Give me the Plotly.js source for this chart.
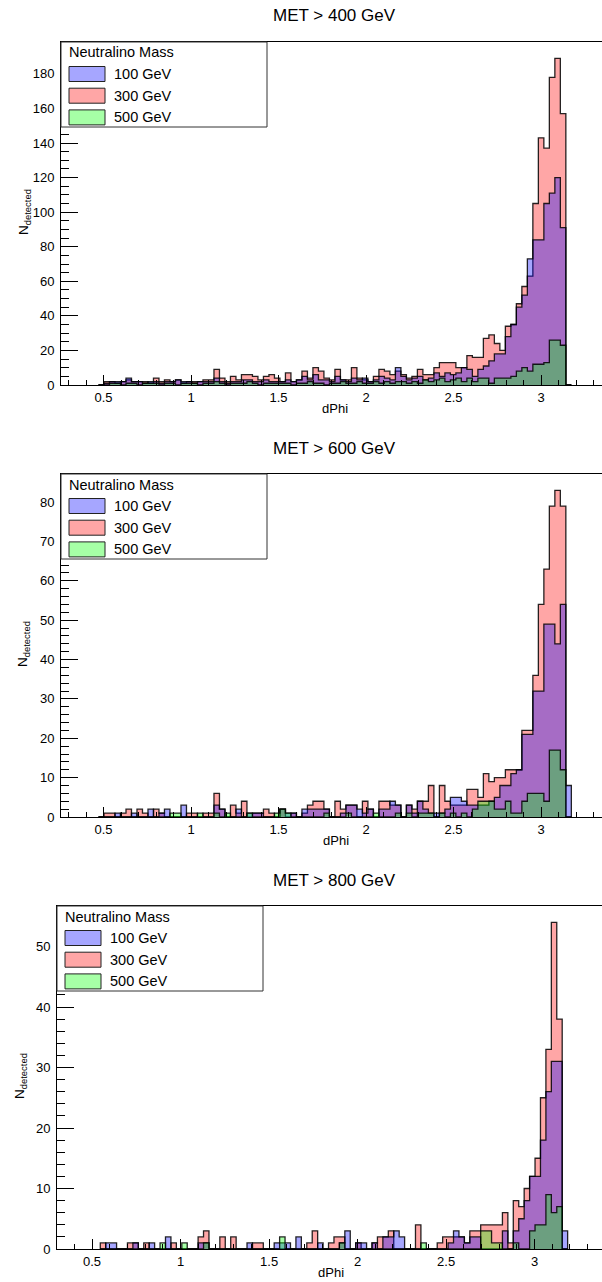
<!DOCTYPE html>
<html>
<head>
<meta charset="utf-8">
<script src="https://cdn.plot.ly/plotly-3.0.1.min.js"></script>
<style>
  html, body { margin: 0; padding: 0; overflow: hidden; background: #fff; }
  #chart { width: 620px; height: 1282px; }
</style>
</head>
<body>
<div id="chart"></div>
<script>
// dPhi distributions for three MET cuts, one histogram per neutralino mass.
const panelTitles = ["MET > 400 GeV", "MET > 600 GeV", "MET > 800 GeV"];
const legendTitle = "Neutralino Mass";
const massLabels = ["100 GeV", "300 GeV", "500 GeV"];
const xTitle = "dPhi";
const yTitle = "N<sub>detected</sub>";

// Binning: bin k spans [origin + k*width, origin + (k+1)*width]; arrays start at bin 15.
const binOrigin = [0, 0, 0.086];
const binWidth = [Math.PI / 100, Math.PI / 100, 0.0307];
const firstBin = 15;

// MET > 400 GeV
const met400_m100 = [
  0, 1, 2, 2, 2, 4, 2, 2, 1, 2,
  2, 1, 2, 2, 3, 2, 2, 1, 2, 2,
  2, 4, 2, 1, 2, 2, 3, 3, 2, 2,
  3, 2, 2, 2, 3, 2, 3, 5, 3, 6,
  3, 3, 2, 5, 3, 2, 4, 3, 4, 2,
  3, 5, 4, 3, 10, 5, 3, 4, 5, 3,
  4, 7, 5, 7, 6, 7, 10, 9, 5, 9,
  11, 14, 18, 18, 28, 35, 45, 52, 73, 84,
  84, 105, 111, 120, 91, 0];
const met400_m300 = [
  0, 2, 2, 1, 2, 3, 2, 2, 2, 1,
  4, 2, 3, 2, 3, 1, 2, 2, 2, 3,
  3, 9, 4, 2, 5, 3, 6, 6, 5, 3,
  5, 6, 4, 2, 7, 2, 3, 8, 4, 10,
  8, 4, 3, 9, 3, 3, 10, 4, 3, 2,
  5, 9, 8, 6, 8, 6, 4, 5, 9, 6,
  6, 10, 13, 13, 13, 10, 10, 17, 16, 16,
  27, 29, 24, 20, 34, 35, 47, 57, 63, 105,
  143, 137, 178, 189, 157, 0];
const met400_m500 = [
  0, 0, 1, 1, 0, 1, 1, 0, 1, 1,
  1, 0, 1, 1, 0, 1, 1, 1, 0, 1,
  1, 2, 1, 0, 1, 1, 1, 2, 1, 0,
  1, 1, 1, 1, 1, 0, 1, 1, 2, 1,
  1, 0, 1, 1, 2, 1, 1, 2, 1, 1,
  2, 1, 2, 1, 2, 2, 1, 2, 1, 3,
  2, 3, 4, 2, 3, 4, 2, 4, 2, 4,
  4, 1, 4, 4, 4, 5, 8, 10, 8, 12,
  12, 13, 26, 26, 23, 0];

// MET > 600 GeV
const met600_m100 = [
  0, 0, 0, 1, 0, 0, 1, 0, 0, 2,
  0, 1, 2, 0, 0, 3, 0, 0, 0, 0,
  0, 3, 2, 0, 0, 2, 0, 1, 1, 1,
  0, 0, 0, 2, 1, 1, 0, 2, 2, 2,
  2, 2, 0, 0, 1, 3, 3, 2, 1, 2,
  0, 2, 2, 4, 3, 0, 3, 1, 4, 2,
  1, 1, 1, 2, 5, 5, 4, 3, 3, 3,
  3, 4, 5, 8, 8, 11, 12, 21, 21, 32,
  32, 49, 49, 44, 54, 8];
const met600_m300 = [
  0, 1, 1, 0, 1, 2, 0, 2, 1, 0,
  2, 1, 0, 0, 0, 0, 1, 1, 0, 1,
  1, 6, 2, 0, 3, 1, 4, 0, 1, 1,
  2, 1, 0, 2, 0, 1, 0, 1, 3, 4,
  4, 2, 0, 4, 2, 3, 3, 0, 4, 2,
  0, 4, 4, 3, 3, 0, 3, 2, 4, 4,
  8, 0, 8, 4, 3, 3, 3, 7, 7, 5,
  11, 9, 10, 10, 12, 12, 12, 22, 22, 36,
  54, 63, 79, 83, 79, 0];
const met600_m500 = [
  0, 0, 0, 0, 0, 0, 0, 0, 0, 0,
  0, 0, 0, 1, 1, 0, 0, 0, 1, 0,
  0, 1, 0, 1, 0, 0, 0, 1, 0, 0,
  0, 0, 1, 2, 1, 0, 0, 0, 0, 0,
  0, 1, 0, 0, 0, 1, 0, 0, 0, 0,
  1, 0, 0, 0, 1, 0, 1, 0, 1, 1,
  1, 0, 1, 0, 1, 0, 1, 0, 2, 4,
  4, 4, 2, 2, 4, 1, 1, 4, 6, 6,
  6, 4, 17, 17, 12, 0];

// MET > 800 GeV
const met800_m100 = [
  0, 1, 1, 0, 0, 0, 1, 0, 0, 1,
  0, 0, 2, 0, 0, 0, 0, 0, 1, 1,
  0, 0, 0, 0, 0, 0, 0, 1, 0, 0,
  0, 0, 1, 1, 1, 0, 2, 0, 0, 0,
  1, 0, 0, 0, 1, 3, 0, 1, 1, 0,
  1, 0, 2, 2, 3, 2, 0, 0, 0, 0,
  0, 0, 0, 0, 1, 3, 2, 1, 2, 2,
  0, 0, 0, 0, 3, 0, 3, 5, 8, 12,
  12, 18, 26, 31, 31, 3];
const met800_m300 = [
  1, 0, 0, 0, 0, 1, 1, 0, 1, 0,
  0, 0, 0, 1, 0, 0, 0, 0, 2, 3,
  0, 0, 2, 0, 2, 0, 0, 0, 1, 1,
  0, 0, 0, 0, 0, 0, 0, 0, 1, 3,
  0, 0, 1, 2, 2, 0, 0, 1, 0, 0,
  1, 2, 2, 3, 0, 0, 0, 0, 4, 0,
  0, 0, 1, 2, 2, 2, 2, 1, 3, 3,
  4, 4, 4, 4, 6, 1, 8, 7, 10, 12,
  15, 25, 33, 54, 38, 0];
const met800_m500 = [
  0, 0, 0, 0, 0, 0, 0, 0, 0, 0,
  0, 1, 0, 0, 0, 1, 0, 0, 0, 1,
  0, 0, 0, 0, 0, 0, 0, 0, 0, 0,
  0, 0, 0, 2, 0, 0, 0, 0, 0, 0,
  0, 0, 0, 0, 1, 0, 0, 0, 0, 0,
  0, 0, 0, 0, 0, 0, 0, 0, 0, 1,
  0, 0, 0, 0, 0, 0, 0, 0, 0, 0,
  3, 3, 1, 1, 0, 0, 1, 0, 0, 3,
  4, 4, 9, 6, 7, 0];

const panelSeries = [
  [met400_m100, met400_m300, met400_m500],
  [met600_m100, met600_m300, met600_m500],
  [met800_m100, met800_m300, met800_m500]
];

// ---- drawing ----
const FONT = "Liberation Sans, Arial, Helvetica, sans-serif";
const W = 620, H = 1282;
const fx = p => p / W;
const fy = p => 1 - p / H;

const fillColors = ["rgba(0,0,255,0.35)", "rgba(255,0,0,0.35)", "rgba(0,255,0,0.35)"];
const drawOrder = [1, 0, 2]; // 300 GeV underneath, then 100 GeV, then 500 GeV

const frames = [
  { left: 61, top: 42,  bottom: 385,  xr: [0.257, 3.451],  yMajor: 20, yMinor: 5, titleX: 334, xtX: 335 },
  { left: 61, top: 474, bottom: 817,  xr: [0.257, 3.451],  yMajor: 10, yMinor: 2, titleX: 334, xtX: 336 },
  { left: 57, top: 906, bottom: 1249, xr: [0.302, 3.4825], yMajor: 10, yMinor: 2, titleX: 334, xtX: 331 }
];

function stepTrace(values, low, width, color, axIdx) {
  const xs = [low], ys = [0];
  values.forEach((v, i) => { xs.push(low + i * width); ys.push(v); });
  xs.push(low + values.length * width); ys.push(0);
  const sfx = axIdx === 0 ? "" : String(axIdx + 1);
  return {
    type: "scatter", mode: "lines", x: xs, y: ys,
    line: { shape: "hv", color: "rgba(0,0,0,0.85)", width: 1.3 },
    fill: "tozeroy", fillcolor: color,
    xaxis: "x" + sfx, yaxis: "y" + sfx,
    showlegend: false, hoverinfo: "skip"
  };
}

const traces = [];
const layout = {
  width: W, height: H,
  margin: { l: 0, r: 0, t: 0, b: 0 },
  paper_bgcolor: "#fff", plot_bgcolor: "#fff",
  showlegend: false,
  font: { family: FONT, color: "#000" },
  annotations: [], shapes: []
};

frames.forEach((fr, p) => {
  const low = binOrigin[p] + firstBin * binWidth[p];
  const series = panelSeries[p];
  drawOrder.forEach(s => traces.push(stepTrace(series[s], low, binWidth[p], fillColors[s], p)));

  const ymax = 1.05 * Math.max(...series.flat());
  const sfx = p === 0 ? "" : String(p + 1);
  const axisCommon = {
    showline: true, linecolor: "#000", linewidth: 1, mirror: true,
    ticks: "inside", tickcolor: "#000", tickwidth: 1,
    showgrid: false, zeroline: false, fixedrange: true,
    tickfont: { family: FONT, size: 13, color: "#000" }
  };
  layout["xaxis" + sfx] = Object.assign({}, axisCommon, {
    domain: [fx(fr.left), 1], range: fr.xr, anchor: "y" + sfx,
    tick0: 0, dtick: 0.5, ticklen: 10,
    minor: { tick0: 0, dtick: 0.1, ticklen: 5, ticks: "inside", tickcolor: "#000", tickwidth: 1, showgrid: false }
  });
  layout["yaxis" + sfx] = Object.assign({}, axisCommon, {
    domain: [fy(fr.bottom), fy(fr.top)], range: [0, ymax], anchor: "x" + sfx,
    tick0: 0, dtick: fr.yMajor, ticklen: 17, ticklabelstandoff: 3,
    minor: { tick0: 0, dtick: fr.yMinor, ticklen: 8, ticks: "inside", tickcolor: "#000", tickwidth: 1, showgrid: false }
  });

  // panel title and axis titles
  layout.annotations.push({
    xref: "paper", yref: "paper", x: fx(fr.titleX), y: fy(fr.top - 26),
    xanchor: "center", yanchor: "middle", showarrow: false,
    text: panelTitles[p], font: { family: FONT, size: 17, color: "#000" }
  });
  layout.annotations.push({
    xref: "paper", yref: "paper", x: fx(fr.xtX), y: fy(fr.bottom + 23),
    xanchor: "center", yanchor: "middle", showarrow: false,
    text: xTitle, font: { family: FONT, size: 13, color: "#000" }
  });
  layout.annotations.push({
    xref: "paper", yref: "paper", x: fx(fr.left - 37), y: fy(fr.top + 170),
    xanchor: "center", yanchor: "middle", showarrow: false, textangle: -90,
    text: yTitle, font: { family: FONT, size: 13.5, color: "#000" }
  });

  // legend box
  const L = fr.left, T = fr.top;
  layout.shapes.push({
    type: "rect", xref: "paper", yref: "paper",
    x0: fx(L), x1: fx(L + 206), y0: fy(T + 85), y1: fy(T),
    line: { color: "#333", width: 1 }, fillcolor: "#fff", layer: "above"
  });
  layout.annotations.push({
    xref: "paper", yref: "paper", x: fx(L + 6), y: fy(T + 10.5),
    xanchor: "left", yanchor: "middle", showarrow: false,
    text: legendTitle, font: { family: FONT, size: 14.5, color: "#000" }
  });
  massLabels.forEach((lab, s) => {
    const cy = T + 32 + s * 21.7;
    layout.shapes.push({
      type: "rect", xref: "paper", yref: "paper",
      x0: fx(L + 8), x1: fx(L + 44), y0: fy(cy + 7.5), y1: fy(cy - 7.5),
      line: { color: "#222", width: 1 }, fillcolor: fillColors[s], layer: "above"
    });
    layout.annotations.push({
      xref: "paper", yref: "paper", x: fx(L + 51), y: fy(cy),
      xanchor: "left", yanchor: "middle", showarrow: false,
      text: lab, font: { family: FONT, size: 14.5, color: "#000" }
    });
  });
});

Plotly.newPlot("chart", traces, layout, { staticPlot: true, displayModeBar: false });
</script>
</body>
</html>
